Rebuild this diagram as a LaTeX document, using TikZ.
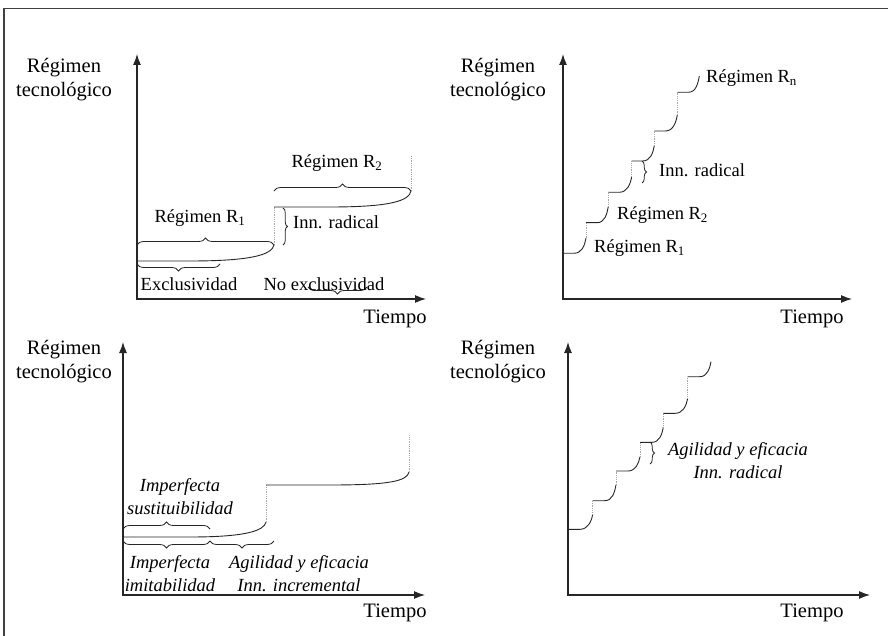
\documentclass[tikz,border=0pt]{standalone}
\usepackage{fontspec}
\setmainfont{Liberation Serif}
\usetikzlibrary{arrows.meta, decorations.pathreplacing}
\tikzstyle{marco} = [line width=1.8pt, draw=black!75]
\tikzstyle{eje} = [line width=1.2pt,
                   draw=black!85,
                   {Latex[length=11pt,width=8pt]}-{Latex[length=11pt,width=8pt]}]
\tikzstyle{regimen} = [line width=0.9pt, draw=black!85]
\tikzstyle{salto} = [line width=0.8pt, draw=gray!70, densely dotted]
\tikzstyle{llave} = [line width=0.8pt,
                     draw=black!85,
                     decorate,
                     decoration={brace, amplitude=7pt}]
\tikzstyle{llavechica} = [llave, decoration={brace, amplitude=4.5pt}]
\tikzstyle{etiqueta} = [inner sep=0pt,
                        align=center,
                        font=\fontsize{18.5}{23}\selectfont]
\tikzstyle{ejetexto} = [inner sep=0pt,
                        align=center,
                        font=\fontsize{20.5}{24}\selectfont]

\begin{document}
\begin{tikzpicture}[x=1pt, y=1pt]
        \useasboundingbox (0,0) rectangle (889,-636);
        \draw [marco] (4,-640) -- (4,-8.5) -- (888,-8.5);

        % ejes de los cuatro paneles
        \foreach \panel/\ox/\oy/\ty/\fx in {A/137/299/54/426, B/563/299/54/852,
                                           C/123/595/342/425, D/568/595/342/870} {
            \coordinate (Tope\panel) at (\ox,-\ty);
            \coordinate (Fin\panel) at (\fx,-\oy);
            \draw [eje] (Tope\panel) |- (Fin\panel);
        }
        \node (RegimenA) [ejetexto] at (64,-80) {Régimen\\tecnológico};
        \node (RegimenB) [ejetexto] at (498,-80) {Régimen\\tecnológico};
        \node (RegimenC) [ejetexto] at (64,-362) {Régimen\\tecnológico};
        \node (RegimenD) [ejetexto] at (498,-362) {Régimen\\tecnológico};
        \node (TiempoA) [ejetexto] at (395,-319) {Tiempo};
        \node (TiempoB) [ejetexto] at (812,-319) {Tiempo};
        \node (TiempoC) [ejetexto] at (395,-613) {Tiempo};
        \node (TiempoD) [ejetexto] at (812,-613) {Tiempo};

        % panel superior izquierdo
        \draw [regimen] (137,-261) -- (190,-261) .. controls (250,-261) and (272,-255) .. (274,-245);
        \draw [salto] (274,-245) -- (274,-207);
        \draw [regimen] (274,-207) -- (330,-207) .. controls (390,-207) and (409,-201) .. (411,-191);
        \draw [salto] (411,-191) -- (411,-155);
        \draw [llave] (137,-245) -- (274,-245);
        \draw [llave] (274,-191) -- (411,-191);
        \draw [llavechica] (283,-208) -- (283,-245);
        \draw [llave] (220,-264) -- (137,-264);
        \draw [llave] (367,-287) -- (308,-287);
        \node (R1A) [etiqueta] at (200,-218) {Régimen R\textsubscript{1}};
        \node (R2A) [etiqueta] at (337,-163) {Régimen R\textsubscript{2}};
        \node (RadicalA) [etiqueta, anchor=west] at (293,-222) {Inn. radical};
        \node (Exclusividad) [etiqueta] at (189,-284) {Exclusividad};
        \node (NoExclusividad) [etiqueta] at (324,-284) {No exclusividad};

        % panel superior derecho
        \foreach \xa/\ya/\xb/\yb in {563/253.3/586/238.3, 586/222.7/608.3/206.7,
                                     608.3/192.3/631.7/176.7, 631.7/161/654.3/145.7,
                                     654.3/131/677.3/115, 677.3/92.3/699.3/76}
            \draw [regimen] (\xa,-\ya) -- ++(11,0) to[out=0,in=-100] (\xb,-\yb);
        \foreach \x/\ya/\yb in {586/238.3/222.7, 608.3/206.7/192.3, 631.7/176.7/161,
                                654.3/145.7/131, 677.3/115/92.3}
            \draw [salto] (\x,-\ya) -- (\x,-\yb);
        \draw [llavechica] (642,-161) -- (642,-183);
        \node (R1B) [etiqueta, anchor=west] at (594,-248) {Régimen R\textsubscript{1}};
        \node (R2B) [etiqueta, anchor=west] at (617,-215) {Régimen R\textsubscript{2}};
        \node (RadicalB) [etiqueta, anchor=west] at (659,-170) {Inn. radical};
        \node (RnB) [etiqueta, anchor=west] at (706,-78) {Régimen R\textsubscript{n}};

        % panel inferior izquierdo
        \draw [regimen] (123,-537) -- (190,-537) .. controls (245,-537) and (264,-531) .. (266,-522);
        \draw [salto] (266,-522) -- (266,-485);
        \draw [regimen] (266,-485) -- (330,-485) .. controls (390,-485) and (407,-481) .. (409,-472);
        \draw [salto] (409,-472) -- (409,-435);
        \draw [llave] (123,-529) -- (210,-529);
        \draw [llave] (210,-541) -- (123,-541);
        \draw [llave] (274,-541) -- (210,-541);
        \node (Sustituibilidad) [etiqueta, font=\fontsize{18.5}{23}\selectfont\itshape]
            at (180,-497) {Imperfecta\\sustituibilidad};
        \node (Imitabilidad) [etiqueta, font=\fontsize{18.5}{23}\selectfont\itshape]
            at (170,-574) {Imperfecta\\imitabilidad};
        \node (Incremental) [etiqueta, font=\fontsize{18.5}{23}\selectfont\itshape]
            at (299,-574) {Agilidad y eficacia\\Inn. incremental};

        % panel inferior derecho
        \foreach \xa/\ya/\xb/\yb in {568/529.3/592.7/514.3, 592.7/500.7/616/485,
                                     616/471/640/456.7, 640/442.3/663.3/427.3,
                                     663.3/413.3/687.7/398.3, 687.7/376.7/711/361.7}
            \draw [regimen] (\xa,-\ya) -- ++(12,0) to[out=0,in=-100] (\xb,-\yb);
        \foreach \x/\ya/\yb in {592.7/514.3/500.7, 616/485/471, 640/456.7/442.3,
                                663.3/427.3/413.3, 687.7/398.3/376.7}
            \draw [salto] (\x,-\ya) -- (\x,-\yb);
        \draw [llavechica] (650,-442) -- (650,-464);
        \node (RadicalD) [etiqueta, font=\fontsize{18.5}{23}\selectfont\itshape]
            at (738,-461) {Agilidad y eficacia\\Inn. radical};
    \end{tikzpicture}
\end{document}
